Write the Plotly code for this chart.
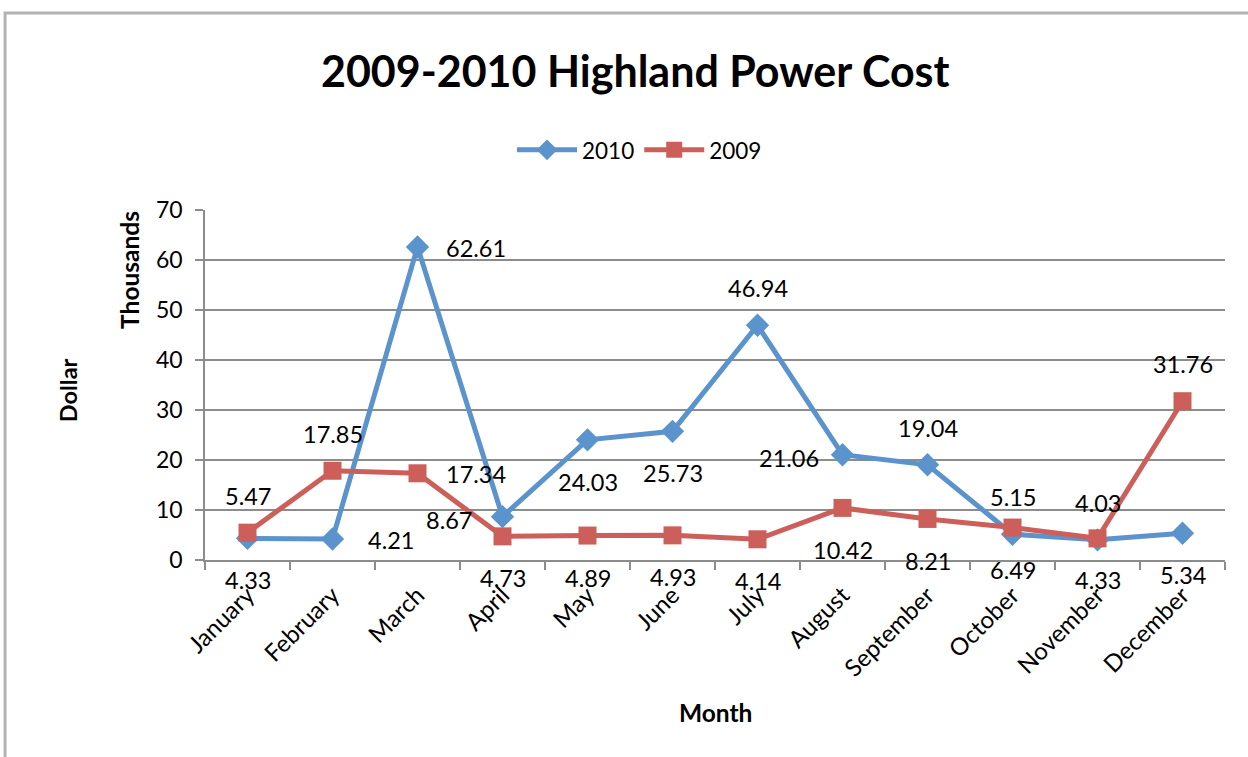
import plotly.graph_objects as go

months = ["January", "February", "March", "April", "May", "June", "July",
          "August", "September", "October", "November", "December"]
cost_2010 = [4.33, 4.21, 62.61, 8.67, 24.03, 25.73, 46.94, 21.06, 19.04, 5.15, 4.03, 5.34]
cost_2009 = [5.47, 17.85, 17.34, 4.73, 4.89, 4.93, 4.14, 10.42, 8.21, 6.49, 4.33, 31.76]
y_ticks = [0, 10, 20, 30, 40, 50, 60, 70]

# label placement (style only)
pos_2010 = ["below", "right", "right", "left", "below", "below", "above", "left",
            "above", "above", "above", "below"]
pos_2009 = ["above", "above", "right", "below", "below", "below", "below", "below",
            "below", "below", "below", "above"]

BLUE = "#5B93CD"
RED = "#CD5F5A"
FONT = "Lato"
shifts = {"above": (0, 37), "below": (0, -42), "right": (58, -1), "left": (-54, -3)}

fig = go.Figure()
fig.add_trace(go.Scatter(x=months, y=cost_2010, name="2010", mode="lines+markers",
                         line=dict(color=BLUE, width=5),
                         marker=dict(symbol="diamond", size=18, color=BLUE)))
fig.add_trace(go.Scatter(x=months, y=cost_2009, name="2009", mode="lines+markers",
                         line=dict(color=RED, width=5),
                         marker=dict(symbol="square", size=18, color=RED)))

annotations = []
for vals, poss in ((cost_2010, pos_2010), (cost_2009, pos_2009)):
    for m, v, p in zip(months, vals, poss):
        dx, dy = shifts[p]
        annotations.append(dict(x=m, y=v, xref="x", yref="y", text=f"{v:.2f}",
                                showarrow=False, xshift=dx, yshift=dy,
                                font=dict(family=FONT, size=23.5, color="black")))

annotations += [
    dict(text="<b>Dollar</b>", xref="paper", yref="paper", x=-0.134, y=0.486,
         xanchor="center", yanchor="middle",
         textangle=-90, showarrow=False, font=dict(family=FONT, size=23.5, color="black")),
    dict(text="<b>Thousands</b>", xref="paper", yref="paper", x=-0.0735, y=0.829,
         xanchor="center", yanchor="middle",
         textangle=-90, showarrow=False, font=dict(family=FONT, size=24.5, color="black")),
    dict(text="<b>Month</b>", xref="paper", yref="paper", x=0.5, y=-0.437,
         xanchor="center", yanchor="middle",
         showarrow=False, font=dict(family=FONT, size=24.5, color="black")),
]

fig.update_layout(
    width=1248, height=757,
    margin=dict(l=205, r=23, t=210, b=197),
    paper_bgcolor="white", plot_bgcolor="white",
    font=dict(family=FONT, size=22, color="black"),
    title=dict(text="<b>2009-2010 Highland Power Cost</b>", x=0.509, xref="container",
               y=0.905, yref="container", xanchor="center", yanchor="middle",
               font=dict(family=FONT, size=43, color="black")),
    legend=dict(orientation="h", x=0.426, y=1.171, xanchor="center", yanchor="middle",
                font=dict(family=FONT, size=22.5, color="black"), itemwidth=60),
    annotations=annotations,
    shapes=[dict(type="rect", xref="paper", yref="paper",
                 x0=-0.196, y0=-0.8, x1=1.1, y1=1.563,
                 line=dict(color="#B3B3B3", width=3), layer="below")],
)
fig.update_xaxes(range=[-0.5, 11.5], showgrid=False, showline=True, linecolor="#8C8C8C",
                 linewidth=1.5, ticks="outside", tickson="boundaries", ticklen=8,
                 tickcolor="#8C8C8C", tickwidth=1.5, tickangle=-45,
                 ticklabelstandoff=10, tickfont=dict(family=FONT, size=24))
fig.update_yaxes(range=[0, 70], tickvals=y_ticks, showgrid=True, gridcolor="#8C8C8C",
                 gridwidth=1.5, showline=True, linecolor="#8C8C8C", linewidth=1.5,
                 ticks="outside", ticklen=8, tickcolor="#8C8C8C", tickwidth=1.5,
                 ticklabelstandoff=8, zeroline=False, tickfont=dict(family=FONT, size=23))

fig.write_html("out.html")
